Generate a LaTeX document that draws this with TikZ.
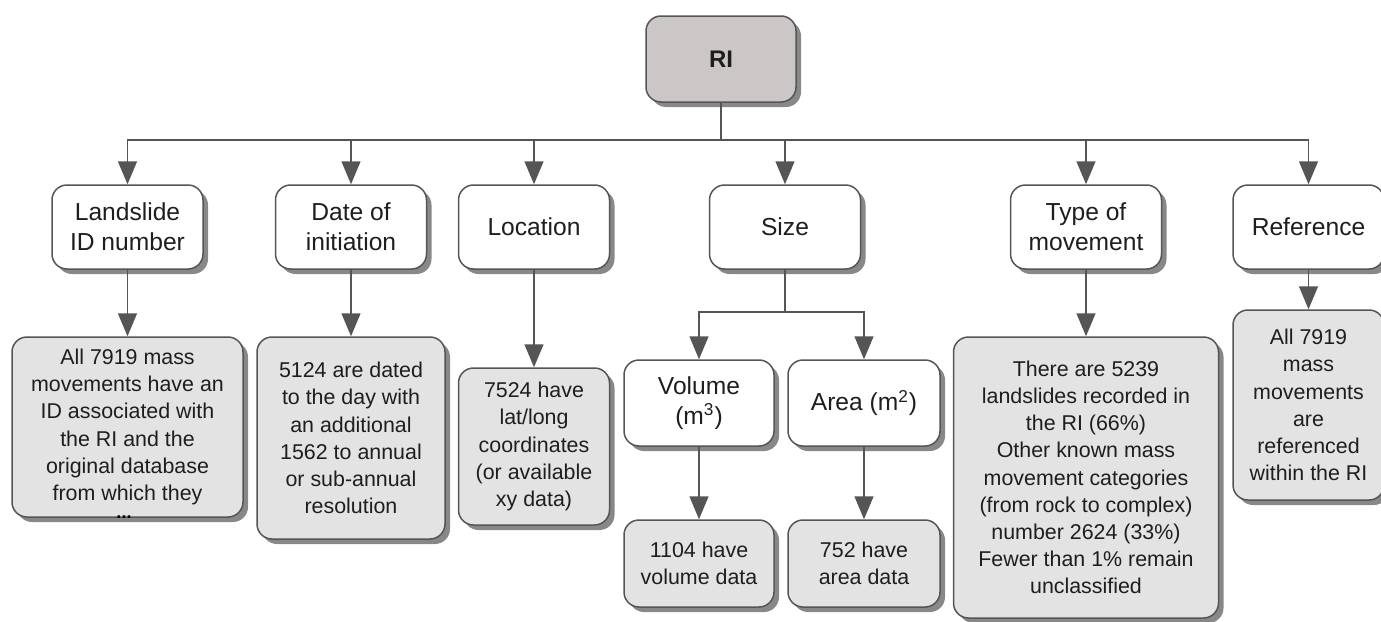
\documentclass[tikz,border=0pt]{standalone}
\usepackage{fontspec}
\setmainfont{Liberation Sans}
\usepackage{tikz}
\usetikzlibrary{arrows.meta,shadows}
\definecolor{LineGrey}{HTML}{555555}
\definecolor{RootGrey}{HTML}{CBC7C7}
\definecolor{InfoGrey}{HTML}{E4E3E3}
\definecolor{ShadeGrey}{HTML}{888888}
\definecolor{TextGrey}{HTML}{1E1E1E}

\begin{document}
\begin{tikzpicture}[
    x=0.5pt, y=-0.5pt,
    box/.style={
        rectangle,
        rounded corners=7.5pt,
        draw=LineGrey,
        line width=0.75pt,
        align=center,
        inner sep=0pt,
        text=TextGrey,
        drop shadow={shadow xshift=2.5pt, shadow yshift=-2.5pt, fill=ShadeGrey, opacity=1}
    },
    rootbox/.style={
        box,
        fill=RootGrey,
        minimum width=75pt,
        minimum height=43pt,
        font=\bfseries\fontsize{12}{14}\selectfont
    },
    topicbox/.style={
        box,
        fill=white,
        minimum width=75.5pt,
        minimum height=42pt,
        font=\fontsize{12.3}{15}\selectfont
    },
    infobox/.style={
        box,
        fill=InfoGrey,
        font=\fontsize{10.7}{13.6}\selectfont
    },
    link/.style={
        draw=LineGrey,
        line width=0.75pt,
        -{Triangle[length=11.5pt,width=9.5pt]}
    }
]
\useasboundingbox (0,0) rectangle (1381,621);

% top
\node[rootbox] (ri) at (721,59) {RI};

% fields
\node[topicbox] (land) at (127.5,227) {Landslide\\ID number};
\node[topicbox] (date) at (351,227) {Date of\\initiation};
\node[topicbox] (loc) at (534,227) {Location};
\node[topicbox] (size) at (785,227) {Size};
\node[topicbox] (type) at (1086,227) {Type of\\movement};
\node[topicbox] (ref) at (1308.5,227) {Reference};

\node[topicbox, minimum width=75pt, minimum height=43pt] (vol) at (699,403) {Volume\\(m\textsuperscript{3})};
\node[topicbox, minimum width=76pt, minimum height=43pt] (area) at (864,403) {Area (m\textsuperscript{2})};

% details
\node[infobox, minimum width=115.5pt, minimum height=90pt] (landd) at (127.5,427)
    {All 7919 mass\\movements have an\\ID associated with\\the RI and the\\original database\\from which they};
\node[font=\bfseries\fontsize{9}{9}\selectfont, inner sep=0pt] (more) at (124,517) {...};
\node[infobox, minimum width=94pt, minimum height=101pt] (dated) at (351,438)
    {5124 are dated\\to the day with\\an additional\\1562 to annual\\or sub-annual\\resolution};
\node[infobox, minimum width=75.5pt, minimum height=78.5pt] (locd) at (534,446.5)
    {7524 have\\lat/long\\coordinates\\(or available\\xy data)};
\node[infobox, minimum width=75pt, minimum height=43.5pt] (vold) at (699,563.5)
    {1104 have\\volume data};
\node[infobox, minimum width=76pt, minimum height=43.5pt] (aread) at (864,563.5)
    {752 have\\area data};
\node[infobox, minimum width=132.5pt, minimum height=140.5pt] (typed) at (1086,477.5)
    {There are 5239\\landslides recorded in\\the RI (66\%)\\Other known mass\\movement categories\\(from rock to complex)\\number 2624 (33\%)\\Fewer than 1\% remain\\unclassified};
\node[infobox, minimum width=75.5pt, minimum height=95pt] (refd) at (1308.5,405)
    {All 7919\\mass\\movements\\are\\referenced\\within the RI};

\coordinate (bus) at (721,140);
\coordinate (split) at (785,312);

\foreach \n in {land,date,loc,size,type,ref}
    \draw[link] (ri.south) |- (bus -| \n.north) -- (\n.north);

\foreach \n in {vol,area}
    \draw[link] (size.south) |- (split -| \n.north) -- (\n.north);

\draw[link] (land.south) -- (landd.north);
\draw[link] (date.south) -- (dated.north);
\draw[link] (loc.south) -- (locd.north);
\draw[link] (vol.south) -- (vold.north);
\draw[link] (area.south) -- (aread.north);
\draw[link] (type.south) -- (typed.north);
\draw[link] (ref.south) -- (refd.north);

\end{tikzpicture}
\end{document}
